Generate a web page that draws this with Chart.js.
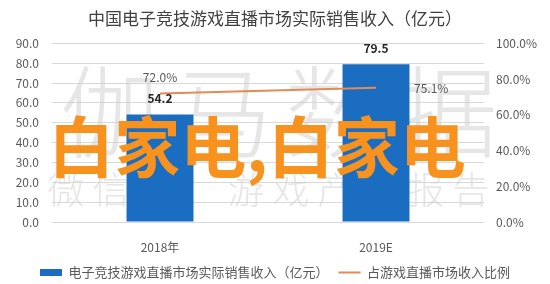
<!DOCTYPE html>
<html>
<head>
<meta charset="utf-8">
<script src="https://cdn.jsdelivr.net/npm/chart.js@4.4.1/dist/chart.umd.min.js"></script>
<style>
  html, body { margin: 0; padding: 0; background: #fff; }
  #wrap { width: 550px; height: 284px; }
</style>
</head>
<body>
<div id="wrap"><canvas id="myChart" width="550" height="284"></canvas></div>
<script>
// data
const years = ['2018年', '2019E'];
const revenue = [54.2, 79.5];          // 亿元, left axis
const share = [72.0, 75.1];            // %, right axis
const leftMax = 90, leftStep = 10;
const rightMax = 100, rightStep = 20;

const titleText = '中国电子竞技游戏直播市场实际销售收入（亿元）';
const barLabel = '电子竞技游戏直播市场实际销售收入（亿元）';
const lineLabel = '占游戏直播市场收入比例';

const BLUE = '#1a6dc0';
const ORANGE = '#e58a55';
const FONT = '"Noto Sans CJK SC", "Noto Sans", sans-serif';

// value labels, placed from the elements the library laid out
const valueLabels = {
  id: 'valueLabels',
  afterDatasetsDraw(chart) {
    const ctx = chart.ctx;
    ctx.save();
    ctx.textBaseline = 'middle';
    const bars = chart.getDatasetMeta(0).data;
    ctx.font = 'bold 12px ' + FONT;
    ctx.fillStyle = '#262626';
    ctx.textAlign = 'center';
    bars.forEach((b, i) => {
      ctx.fillText(revenue[i].toFixed(1), b.x, b.y - 16);
    });
    const pts = chart.getDatasetMeta(1).data;
    ctx.font = '12px ' + FONT;
    ctx.fillStyle = '#595959';
    ctx.textAlign = 'center';
    ctx.fillText(share[0].toFixed(1) + '%', pts[0].x, pts[0].y - 16);
    ctx.textAlign = 'left';
    ctx.fillText(share[1].toFixed(1) + '%', pts[1].x + 38, pts[1].y + 1);
    ctx.restore();
  }
};

// the watermarks that sit on the picture
const watermarks = {
  id: 'watermarks',
  beforeDatasetsDraw(chart) {
    const ctx = chart.ctx;
    ctx.save();
    ctx.fillStyle = 'rgba(205,205,205,0.5)';
    ctx.textAlign = 'center';
    ctx.textBaseline = 'middle';
    ctx.font = '300 100px ' + FONT;
    '伽马数据'.split('').forEach((c, i) => ctx.fillText(c, 110 + i * 112.5, 112));
    ctx.font = '300 37px ' + FONT;
    '微信号：游戏产业报告'.split('').forEach((c, i) => ctx.fillText(c, 66 + i * 45, 190));
    ctx.restore();
  },
  afterDraw(chart) {
    const ctx = chart.ctx;
    ctx.save();
    ctx.fillStyle = '#f7921e';
    ctx.textAlign = 'center';
    ctx.textBaseline = 'middle';
    ctx.font = 'bold 66px ' + FONT;
    ctx.fillText('白家电,白家电', 257, 147);
    ctx.restore();
  }
};

new Chart(document.getElementById('myChart'), {
  data: {
    labels: years,
    datasets: [
      {
        type: 'bar',
        label: barLabel,
        data: revenue,
        backgroundColor: BLUE,
        yAxisID: 'y',
        order: 1,
        categoryPercentage: 1,
        barPercentage: 0.31
      },
      {
        type: 'line',
        label: lineLabel,
        data: share,
        borderColor: ORANGE,
        backgroundColor: ORANGE,
        borderWidth: 2,
        pointRadius: 0,
        yAxisID: 'y1',
        order: 0
      }
    ]
  },
  options: {
    responsive: false,
    animation: false,
    layout: { padding: { left: 0, right: 0, top: 8, bottom: -5 } },
    plugins: {
      title: {
        display: true,
        text: titleText,
        color: '#404040',
        font: { family: FONT, size: 17, weight: 'normal' },
        padding: { top: 0, bottom: 15 }
      },
      legend: {
        position: 'bottom',
        labels: {
          color: '#595959',
          font: { family: FONT, size: 13 },
          usePointStyle: true,
          pointStyleWidth: 22,
          boxHeight: 7,
          padding: 10,
          sort: (a, b) => a.datasetIndex - b.datasetIndex,
          generateLabels(chart) {
            const items = Chart.defaults.plugins.legend.labels.generateLabels(chart);
            items.forEach(it => {
              if (it.datasetIndex === 0) {
                it.pointStyle = 'rect';
                it.fillStyle = BLUE;
                it.strokeStyle = BLUE;
                it.lineWidth = 0;
              } else {
                it.pointStyle = 'line';
                it.strokeStyle = ORANGE;
                it.lineWidth = 2;
              }
            });
            return items;
          }
        }
      },
      tooltip: { enabled: false }
    },
    scales: {
      x: {
        grid: { display: false, drawTicks: false },
        border: { display: false },
        ticks: { color: '#595959', font: { family: FONT, size: 12 }, padding: 18 },
        afterFit: s => { s.height = 34; }
      },
      y: {
        position: 'left',
        min: 0,
        max: leftMax,
        grid: { color: '#d9d9d9', drawTicks: false },
        border: { display: false },
        ticks: {
          stepSize: leftStep,
          color: '#595959',
          font: { family: FONT, size: 12 },
          padding: 13,
          callback: v => v.toFixed(1)
        },
        afterFit: s => { s.width = 52; }
      },
      y1: {
        position: 'right',
        min: 0,
        max: rightMax,
        grid: { display: false, drawTicks: false },
        border: { display: false },
        ticks: {
          stepSize: rightStep,
          color: '#595959',
          font: { family: FONT, size: 12 },
          padding: 12,
          callback: v => v.toFixed(1) + '%'
        },
        afterFit: s => { s.width = 66; }
      }
    }
  },
  plugins: [valueLabels, watermarks]
});
</script>
</body>
</html>
